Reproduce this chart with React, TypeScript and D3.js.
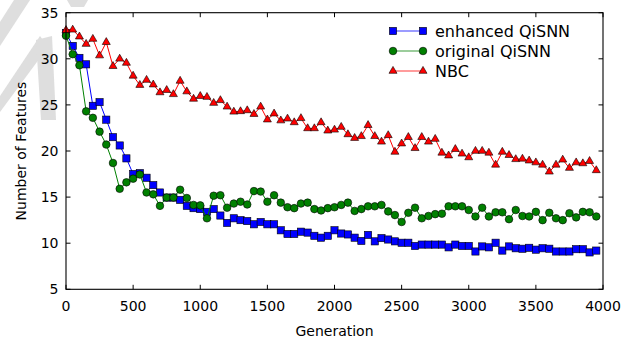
import * as d3 from 'd3';

// generations sampled every 50, from 0 to 3950
const generations = d3.range(0, 4000, 50);

const enhancedQiSNN = [
  32.8, 31.4, 30.1, 29.4, 24.9, 25.3, 23.4, 21.5, 20.6, 19.2,
  17.5, 17.6, 17.1, 16.3, 15.5, 14.95, 14.95, 14.7, 14.05, 13.8,
  13.7, 13.4, 13.7, 13.0, 12.2, 12.7, 12.5, 12.4, 12.05, 12.3,
  12.05, 12.05, 11.4, 11.0, 11.0, 11.25, 11.15, 10.8, 10.6, 10.8,
  11.4, 11.05, 10.95, 10.6, 10.25, 10.9, 10.2, 10.55, 10.4, 10.2,
  10.05, 10.05, 9.7, 9.85, 9.85, 9.85, 9.85, 9.55, 9.85, 9.7,
  9.7, 9.1, 9.65, 9.55, 10.05, 9.2, 9.65, 9.45, 9.4, 9.5,
  9.3, 9.45, 9.4, 9.1, 9.1, 9.1, 9.35, 9.35, 9.0, 9.2,
];

const originalQiSNN = [
  32.5, 30.5, 29.3, 24.3, 23.6, 22.1, 20.7, 18.7, 15.9, 16.6,
  17.0, 17.45, 15.5, 15.3, 14.05, 14.95, 14.95, 15.8, 14.9, 14.15,
  14.1, 12.7, 15.15, 15.2, 13.85, 14.3, 14.5, 14.2, 15.65, 15.6,
  14.5, 15.2, 14.4, 13.9, 13.8, 14.3, 14.4, 13.7, 13.55, 13.8,
  13.9, 14.15, 14.4, 13.5, 13.7, 14.0, 14.0, 14.15, 13.45, 13.05,
  12.3, 13.3, 13.85, 12.7, 12.95, 13.15, 13.2, 14.0, 14.0, 14.0,
  13.6, 12.9, 13.85, 12.9, 13.35, 13.35, 12.6, 13.6, 12.95, 12.9,
  13.4, 12.5, 13.3, 12.7, 12.5, 13.25, 12.8, 13.4, 13.35, 12.9,
];

const nbc = [
  33.1, 33.15, 32.4, 31.6, 32.15, 30.35, 31.8, 29.2, 30.0, 29.55,
  28.15, 27.15, 27.7, 27.2, 26.35, 26.6, 26.15, 27.6, 26.45, 25.65,
  25.95, 25.85, 25.2, 25.5, 24.8, 24.25, 24.3, 24.4, 24.0, 24.8,
  23.4, 24.05, 23.3, 23.5, 23.1, 23.55, 22.45, 22.45, 23.1, 22.2,
  22.3, 22.6, 21.8, 21.4, 21.6, 22.8, 21.6, 21.0, 21.7, 19.9,
  20.8, 21.5, 20.3, 21.5, 21.0, 21.3, 19.8, 19.5, 20.2, 19.7,
  19.3, 20.0, 20.0, 19.8, 18.5, 19.9, 19.55, 19.1, 19.15, 18.95,
  18.75, 18.5, 17.75, 18.5, 19.05, 18.15, 18.75, 18.65, 18.9, 17.9,
];

const xTicks = [0, 500, 1000, 1500, 2000, 2500, 3000, 3500, 4000];
const yTicks = [5, 10, 15, 20, 25, 30, 35];

const seriesNames = ['enhanced QiSNN', 'original QiSNN', 'NBC'];
const seriesColors = ['#0000ff', '#008000', '#ff0000'];
const seriesMarkers = ['square', 'circle', 'triangle'];

const W = 635;
const H = 341;
const plot = { left: 66, right: 603, top: 12.7, bottom: 289.3 };
const font = '"DejaVu Sans", sans-serif';

function Marker({ kind, x, y, color }: { kind: string; x: number; y: number; color: string }) {
  if (kind === 'square') {
    return <rect x={x - 3.6} y={y - 3.6} width={7.2} height={7.2} fill={color} stroke="#000" strokeWidth={0.6} />;
  }
  if (kind === 'circle') {
    return <circle cx={x} cy={y} r={3.8} fill={color} stroke="#000" strokeWidth={0.6} />;
  }
  const r = 4.6;
  const pts = [
    [x, y - r],
    [x - r * 0.87, y + r * 0.5],
    [x + r * 0.87, y + r * 0.5],
  ];
  return <polygon points={pts.map(p => p.join(',')).join(' ')} fill={color} stroke="#000" strokeWidth={0.6} />;
}

export default function App() {
  const x = d3.scaleLinear().domain([0, 4000]).range([plot.left, plot.right]);
  const y = d3.scaleLinear().domain([5, 35]).range([plot.bottom, plot.top]);

  const allSeries = [enhancedQiSNN, originalQiSNN, nbc];
  const line = d3.line<number>()
    .x((_, i) => x(generations[i]))
    .y(d => y(d));

  const tickLen = 4.5;

  return (
    <svg width={W} height={H} style={{ position: 'absolute', left: 0, top: 0, background: '#fff' }}>
      <rect width={W} height={H} fill="#fff" />

      {/* faint watermark strokes */}
      <g fill="#d6d6d6" opacity={0.8}>
        <polygon points="0,22 14,0 30,0 0,46" />
        <polygon points="0,96 40,36 48,47 0,112" />
        <polygon points="36,40 52,36 56,120 41,120" />
        <polygon points="67,0 88,0 84,7 71,7" />
      </g>

      <defs>
        <clipPath id="plotClip">
          <rect x={plot.left - 6} y={plot.top - 6} width={plot.right - plot.left + 12} height={plot.bottom - plot.top + 12} />
        </clipPath>
      </defs>

      {/* series */}
      <g clipPath="url(#plotClip)">
        {allSeries.map((s, si) => (
          <g key={seriesNames[si]}>
            <path d={line(s) || ''} fill="none" stroke={seriesColors[si]} strokeWidth={1} />
            {s.map((v, i) => (
              <Marker key={i} kind={seriesMarkers[si]} x={x(generations[i])} y={y(v)} color={seriesColors[si]} />
            ))}
          </g>
        ))}
      </g>

      {/* frame */}
      <rect x={plot.left} y={plot.top} width={plot.right - plot.left} height={plot.bottom - plot.top}
        fill="none" stroke="#000" strokeWidth={1.1} />

      {/* x ticks */}
      {xTicks.map(t => (
        <g key={'x' + t}>
          <line x1={x(t)} x2={x(t)} y1={plot.bottom} y2={plot.bottom - tickLen} stroke="#000" />
          <line x1={x(t)} x2={x(t)} y1={plot.top} y2={plot.top + tickLen} stroke="#000" />
          <text x={x(t)} y={310.5} textAnchor="middle" fontFamily={font} fontSize={14} fill="#000">{t}</text>
        </g>
      ))}

      {/* y ticks */}
      {yTicks.map(t => (
        <g key={'y' + t}>
          <line x1={plot.left} x2={plot.left + tickLen} y1={y(t)} y2={y(t)} stroke="#000" />
          <line x1={plot.right} x2={plot.right - tickLen} y1={y(t)} y2={y(t)} stroke="#000" />
          <text x={58.5} y={y(t) + 5} textAnchor="end" fontFamily={font} fontSize={14} fill="#000">{t}</text>
        </g>
      ))}

      {/* axis labels */}
      <text x={(plot.left + plot.right) / 2} y={335.5} textAnchor="middle" fontFamily={font} fontSize={14} fill="#000">Generation</text>
      <text transform={`translate(26,${(plot.top + plot.bottom) / 2}) rotate(-90)`} textAnchor="middle"
        fontFamily={font} fontSize={14} fill="#000">Number of Features</text>

      {/* legend */}
      {seriesNames.map((name, i) => {
        const ly = 31 + i * 20;
        return (
          <g key={'leg' + name}>
            <line x1={393} x2={423} y1={ly} y2={ly} stroke={seriesColors[i]} strokeOpacity={0.65} strokeWidth={1.2} />
            <Marker kind={seriesMarkers[i]} x={393} y={ly} color={seriesColors[i]} />
            <Marker kind={seriesMarkers[i]} x={423} y={ly} color={seriesColors[i]} />
            <text x={435} y={ly + 6} fontFamily={font} fontSize={16} fill="#000">{name}</text>
          </g>
        );
      })}
    </svg>
  );
}
